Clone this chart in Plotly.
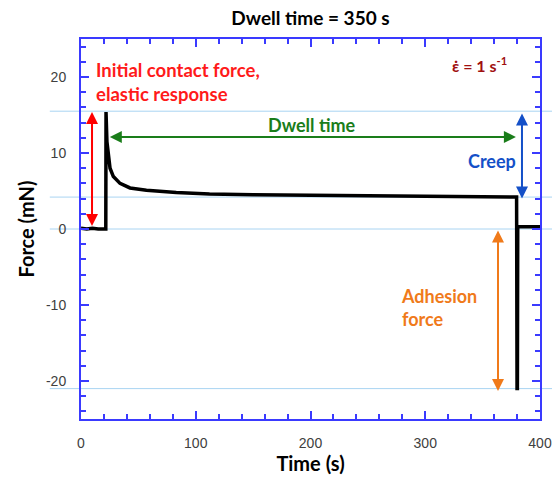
import plotly.graph_objects as go

# ---------------- data ----------------
time_s = [0, 5, 10, 15, 21.6, 21.8, 22.6, 23.8, 25.3, 28.2, 34, 42.7, 57, 83, 112,
          150, 200, 243, 300, 350, 379.6, 380.0, 380.3, 380.6, 385, 390, 395, 400]
force_mN = [0.1, 0.0, 0.1, 0.0, 0.0, 15.4, 11.5, 10.0, 8.0, 6.9, 6.0, 5.4, 5.1, 4.8, 4.6,
            4.5, 4.4, 4.35, 4.3, 4.25, 4.2, -21.0, -21.0, 0.3, 0.3, 0.3, 0.3, 0.3]

ref_levels = [15.5, 4.2, 0, -21]          # light-blue reference lines (mN)

x_ticks = [0, 100, 200, 300, 400]
x_tick_text = ["0", "100", "200", "300", "400"]
y_ticks = [-20, -10, 0, 10, 20]
y_tick_text = ["-20", "-10", "0", "10", "20"]

# double-headed arrows: (t_start, F_start, t_end, F_end)
arrow_t0 = [9.6, 23.8, 384.3, 363.4]
arrow_f0 = [0.2, 12.1, 15.4, 0.0]
arrow_t1 = [9.6, 379.0, 384.3, 363.4]
arrow_f1 = [15.4, 12.1, 4.0, -21.3]
arrow_colors = ["#ff0000", "#1a7d1a", "#1450c8", "#f07a1a"]

label_texts = ["Initial contact force,<br>elastic response", "Dwell time", "Creep",
               "Adhesion<br>force", "ε̇ = 1 s<sup>-1</sup>"]
label_t = [11.0, 201, 358, 277.5, 373]
label_f = [19.4, 13.7, 8.9, -10.3, 21.7]
label_xanchor = ["left", "center", "center", "left", "right"]
label_colors = ["#ff1a1a", "#1a7d1a", "#1450c8", "#f07a1a", "#a01010"]
label_sizes = [18.5, 18, 18, 18, 16]

AX = "#3a3aff"
FONT = "Lato"

fig = go.Figure()
fig.add_trace(go.Scatter(x=time_s, y=force_mN, mode="lines",
                         line=dict(color="black", width=3.5), showlegend=False,
                         hoverinfo="skip"))

for lvl in ref_levels:
    fig.add_shape(type="line", xref="paper", yref="y", x0=-0.068, x1=1.03,
                  y0=lvl, y1=lvl, line=dict(color="#a9d4f2", width=1), layer="below")

for t0, f0, t1, f1, c in zip(arrow_t0, arrow_f0, arrow_t1, arrow_f1, arrow_colors):
    fig.add_annotation(x=t1, y=f1, ax=t0, ay=f0, xref="x", yref="y", axref="x", ayref="y",
                       text="", showarrow=True, arrowhead=2, arrowside="end+start",
                       arrowsize=1.2, arrowwidth=2, arrowcolor=c,
                       standoff=0, startstandoff=0)

for txt, t, f, xa, c, s in zip(label_texts, label_t, label_f, label_xanchor,
                               label_colors, label_sizes):
    fig.add_annotation(x=t, y=f, xref="x", yref="y", text="<b>%s</b>" % txt,
                       showarrow=False, xanchor=xa, yanchor="middle", align="left",
                       font=dict(family=FONT, size=s, color=c))

axis_common = dict(showline=True, linecolor=AX, linewidth=2, mirror="ticks",
                   ticks="inside", tickcolor=AX, tickwidth=1.5, ticklen=8,
                   showgrid=False, zeroline=False, automargin=False,
                   tickfont=dict(family="Liberation Sans", size=14, color="#404040"))

fig.update_xaxes(range=[0, 400], tickvals=x_ticks, ticktext=x_tick_text,
                 minor=dict(ticks="inside", dtick=20, ticklen=5, tickcolor=AX, tickwidth=1.5,
                            showgrid=False),
                 ticklabelstandoff=10,
                 title=dict(text="<b>Time (s)</b>", font=dict(family=FONT, size=20, color="black"),
                            standoff=3),
                 **axis_common)
fig.update_yaxes(range=[-25, 25], tickvals=y_ticks, ticktext=y_tick_text,
                 minor=dict(ticks="inside", dtick=2, ticklen=5, tickcolor=AX, tickwidth=1.5,
                            showgrid=False),
                 ticklabelstandoff=10,
                 title=dict(text="<b>Force (mN)</b>", font=dict(family=FONT, size=20, color="black"),
                            standoff=6),
                 **axis_common)

fig.update_layout(
    width=552, height=478,
    margin=dict(l=81, r=12, t=39, b=59),
    paper_bgcolor="white", plot_bgcolor="white",
    title=dict(text="<b>Dwell time = 350 s</b>", x=0.5, xref="paper", xanchor="center",
               y=1 - 18 / 478, yref="container", yanchor="middle",
               font=dict(family=FONT, size=19, color="black")),
)

fig.write_html("out.html", config={"displayModeBar": False},
               post_script="document.body.style.margin='0';")
